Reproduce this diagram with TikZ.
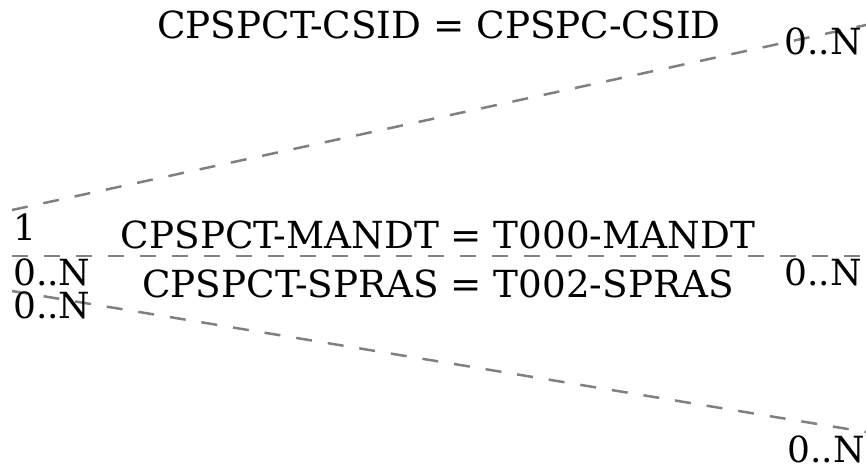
\documentclass[tikz,border=0pt]{standalone}
\usepackage{fontspec}
\setmainfont{DejaVu Serif}
\begin{document}
\begin{tikzpicture}[x=1pt,y=-1pt,
  lbl/.style={inner sep=0pt, font=\fontsize{37.3}{42}\selectfont},
  card/.style={inner sep=0pt, font=\fontsize{36}{40}\selectfont},
  rel/.style={draw=gray, line width=2.5pt, dash pattern=on 16pt off 16pt}]
\useasboundingbox (0,0) rectangle (866,467);
% line end points
\coordinate (a1) at (12,210);
\coordinate (b1) at (866,25);
\coordinate (a2) at (12,256);
\coordinate (b2) at (866,256);
\coordinate (a3) at (12,291);
\coordinate (b3) at (866,432);
\draw[rel] (a1) -- (b1);
\draw[rel] (a2) -- (b2);
\draw[rel] (a3) -- (b3);
% join labels
\node[lbl, anchor=base] (j1) at (439,38) {CPSPCT-CSID = CPSPC-CSID};
\node[lbl, anchor=base] (j2) at (438,248) {CPSPCT-MANDT = T000-MANDT};
\node[lbl, anchor=base] (j3) at (438,297) {CPSPCT-SPRAS = T002-SPRAS};
% cardinalities
\node[card, anchor=base west] (c1) at (13,240) {1};
\node[card, anchor=base west] (c2) at (13,285) {0..N};
\node[card, anchor=base west] (c3) at (13,318) {0..N};
\node[card, anchor=base east] (d1) at (862,54) {0..N};
\node[card, anchor=base east] (d2) at (862,285) {0..N};
\node[card, anchor=base east] (d3) at (865,462) {0..N};
\end{tikzpicture}
\end{document}
